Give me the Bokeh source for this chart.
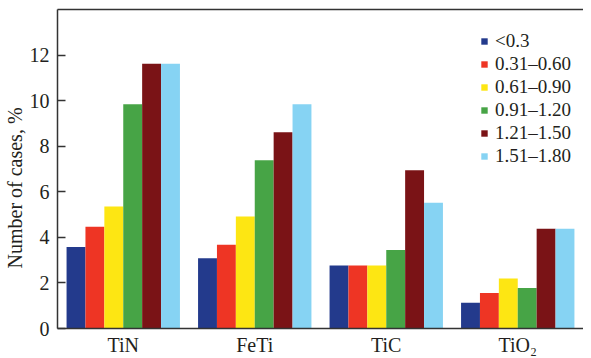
import math
from bokeh.plotting import figure
from bokeh.models import (ColumnDataSource, FactorRange, Range1d, Legend, LegendItem,
                          LinearAxis, FixedTicker, Title)
from bokeh.transform import dodge
from bokeh.embed import file_html
from bokeh.resources import INLINE

categories = ["TiN", "FeTi", "TiC", "TiO\u2082"]
series_labels = ["<0.3", "0.31\u20130.60", "0.61\u20130.90", "0.91\u20131.20", "1.21\u20131.50", "1.51\u20131.80"]
s_lt03 = [3.58, 3.08, 2.76, 1.13]
s_031_060 = [4.47, 3.68, 2.76, 1.56]
s_061_090 = [5.35, 4.92, 2.76, 2.19]
s_091_120 = [9.84, 7.38, 3.45, 1.78]
s_121_150 = [11.62, 8.61, 6.94, 4.38]
s_151_180 = [11.62, 9.84, 5.52, 4.38]
y_ticks = [0, 2, 4, 6, 8, 10, 12]

series = [s_lt03, s_031_060, s_061_090, s_091_120, s_121_150, s_151_180]
colors = ["#233a8c", "#ee3524", "#fde613", "#47a446", "#7a1316", "#86d3f3"]
keys = ["s%d" % i for i in range(len(series))]

data = {"cat": categories}
for k, s in zip(keys, series):
    data[k] = s
source = ColumnDataSource(data)

FONT = "Liberation Serif"
TXT = "#231f20"
AX = "#333333"

p = figure(width=583, height=358, output_backend="svg", toolbar_location=None,
           x_range=FactorRange(*categories, range_padding=0),
           y_range=Range1d(0, 14),
           min_border_left=54, min_border_right=0, min_border_top=9, min_border_bottom=28)
p.outline_line_color = None
p.background_fill_color = "white"
p.border_fill_color = "white"
p.xgrid.visible = False
p.ygrid.visible = False

bw = 0.1437
items = []
for i, (k, c, lab) in enumerate(zip(keys, colors, series_labels)):
    r = p.vbar(x=dodge("cat", (i - 2.5) * bw, range=p.x_range), top=k, width=bw,
               source=source, fill_color=c, line_color=None)
    items.append(LegendItem(label=lab, renderers=[r]))

# y axis
ya = p.yaxis[0]
ya.ticker = FixedTicker(ticks=y_ticks)
ya.major_tick_in = 8
ya.major_tick_out = 0
ya.minor_tick_line_color = None
ya.minor_tick_in = 0
ya.minor_tick_out = 0
ya.major_label_standoff = 8
ya.major_label_text_font = FONT
ya.major_label_text_font_size = "20px"
ya.major_label_text_color = TXT
ya.axis_line_color = AX
ya.axis_line_width = 1.5
ya.major_tick_line_color = AX
ya.major_tick_line_width = 1.5

# x axis
xa = p.xaxis[0]
xa.major_tick_line_color = None
xa.minor_tick_line_color = None
xa.major_tick_in = 0
xa.major_tick_out = 0
xa.minor_tick_in = 0
xa.minor_tick_out = 0
xa.major_label_standoff = 5
xa.major_label_text_font = FONT
xa.major_label_text_font_size = "20px"
xa.major_label_text_color = TXT
xa.axis_line_color = AX
xa.axis_line_width = 1.5

# top frame line
top = LinearAxis(major_tick_line_color=None, minor_tick_line_color=None,
                 major_tick_in=0, major_tick_out=0, minor_tick_in=0, minor_tick_out=0,
                 major_label_text_font_size="0px", axis_line_color=AX, axis_line_width=1.5,
                 major_label_standoff=0)
top.ticker = FixedTicker(ticks=[])
p.add_layout(top, "above")

# y axis title: starts ~60px above the frame bottom, as in the reference
yt = Title(text="Number of cases, %", align="left", offset=60,
           text_font=FONT, text_font_size="20px", text_font_style="normal",
           text_color=TXT, standoff=2)
p.add_layout(yt, "left")

legend = Legend(items=items, location=(423, 161), orientation="vertical",
                glyph_width=8, glyph_height=8, label_standoff=7,
                label_text_font=FONT, label_text_font_size="19px", label_text_color=TXT,
                label_height=23, spacing=0, padding=0, margin=0,
                border_line_color=None, background_fill_alpha=0)
p.add_layout(legend)

open("out.html", "w").write(file_html(p, INLINE))
